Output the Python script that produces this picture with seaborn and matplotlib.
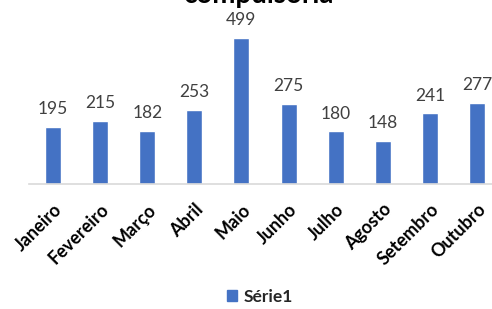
import matplotlib
matplotlib.use("Agg")
import matplotlib.pyplot as plt
import seaborn as sns
import pandas as pd
from matplotlib.patches import Patch

months = ["Janeiro", "Fevereiro", "Março", "Abril", "Maio", "Junho",
          "Julho", "Agosto", "Setembro", "Outubro"]
values = [195, 215, 182, 253, 499, 275, 180, 148, 241, 277]
series_name = "Série1"
title = "compulsória"

sns.set_theme(style="white")
plt.rcParams['font.family'] = ['Lato', 'DejaVu Sans']

df = pd.DataFrame({"Mês": months, "Valor": values})

fig = plt.figure(figsize=(4.92, 3.09), dpi=100)
ax = fig.add_axes([29.5/492, 125/309, 471/492, 174/309])
sns.barplot(data=df, x="Mês", y="Valor", color="#4472C4", width=0.34,
            saturation=1, ax=ax)
ax.set_ylim(0, 174/0.2926)
ax.set_xlim(-0.5, 9.5)
for s in ["top", "right", "left"]:
    ax.spines[s].set_visible(False)
ax.spines["bottom"].set_color("#D9D9D9")
ax.spines["bottom"].set_linewidth(1.2)
ax.set_yticks([])
ax.set_xlabel("")
ax.set_ylabel("")
ax.tick_params(axis="x", length=0, pad=12)
ax.set_xticks(range(len(months)))
ax.set_xticklabels(months, rotation=45, ha="right", rotation_mode="anchor",
                   fontsize=13, fontweight="bold", color="#000000")
for c in ax.containers:
    ax.bar_label(c, labels=[str(v) for v in values], padding=7, fontsize=12.5,
                 color="#404040")

fig.text(258/492, 1 - 3/309, title, ha="center", va="baseline",
         fontsize=20, fontweight="bold", color="#000000")

leg = fig.legend(handles=[Patch(color="#4472C4", label=series_name)],
                 loc="center", bbox_to_anchor=(260/492, 1 - 297/309),
                 frameon=False, handlelength=0.6, handleheight=0.6,
                 handletextpad=0.4, prop={"weight": "bold", "size": 12.5})

fig.savefig("out.png", dpi=100)
